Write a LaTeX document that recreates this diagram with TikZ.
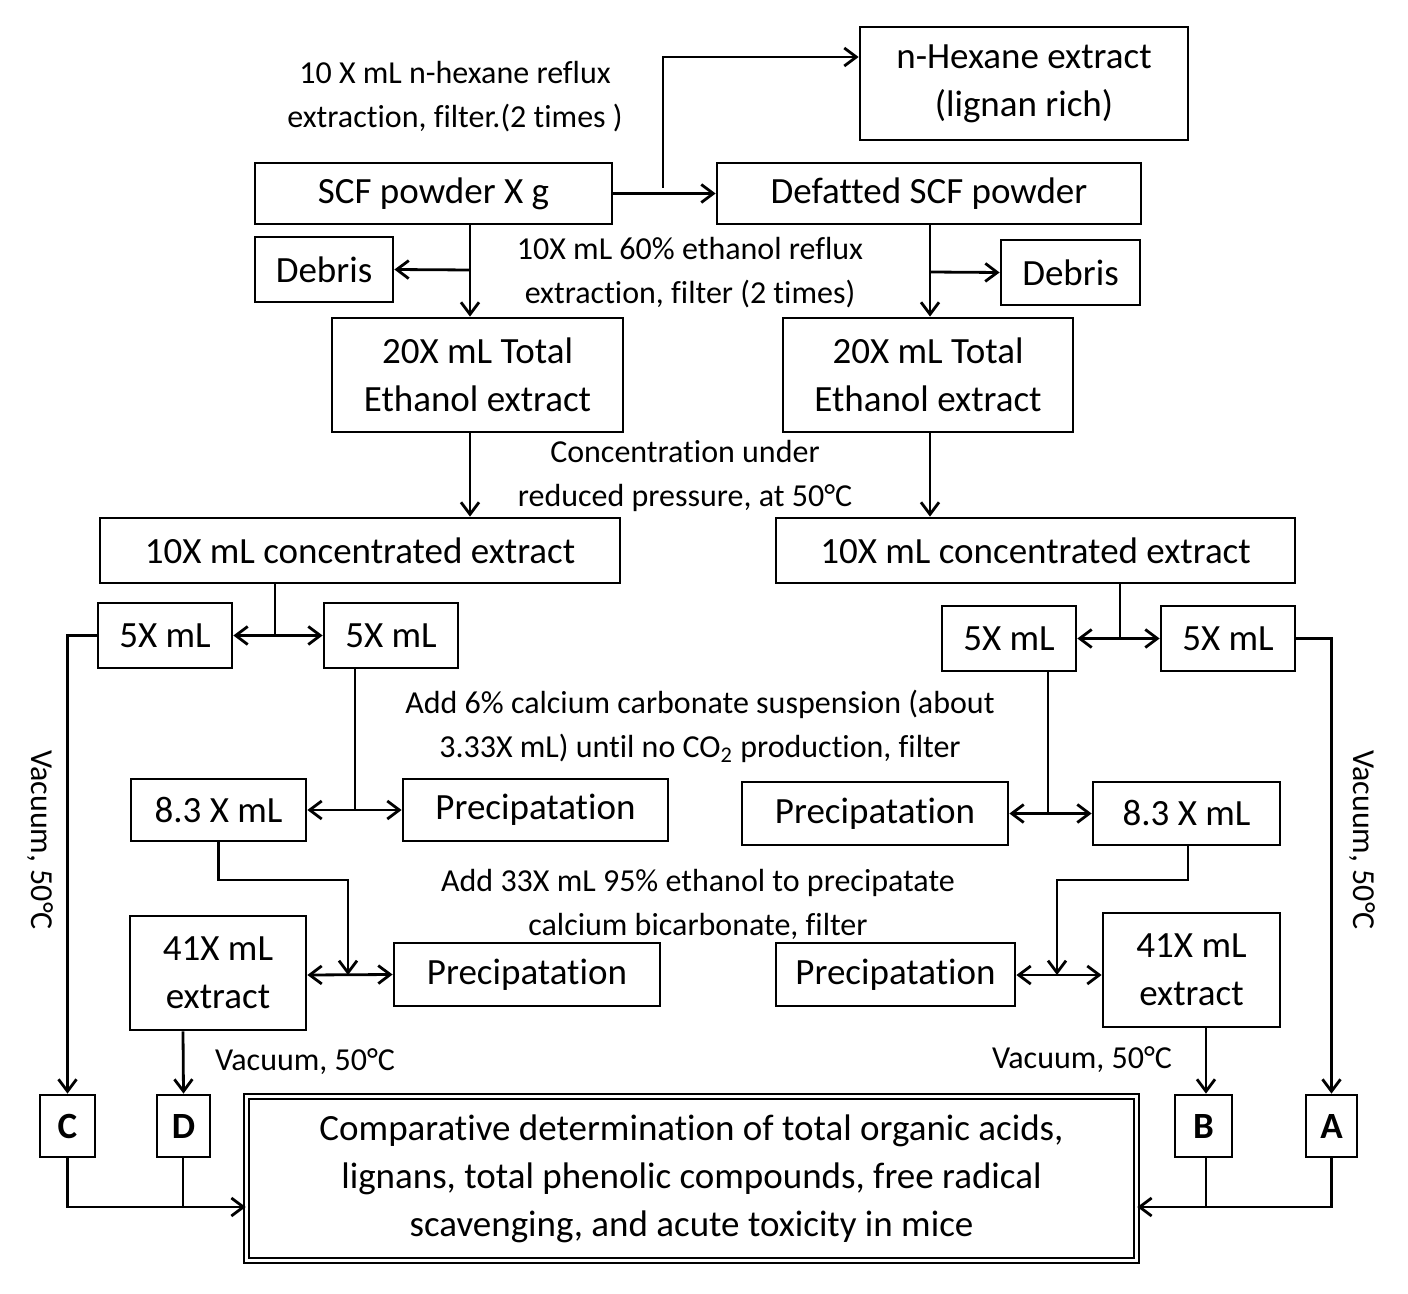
\documentclass[tikz,border=0pt]{standalone}
\usepackage{fontspec}
\usetikzlibrary{arrows.meta}
\setmainfont[Ligatures={NoCommon}]{Carlito}
\begin{document}
\begin{tikzpicture}[x=0.5pt,y=-0.5pt,line width=1.4pt,
 bx/.style={draw,align=center,inner sep=0pt,font=\fontsize{18.5}{24}\selectfont},
 ann/.style={align=center,inner sep=0pt,font=\fontsize{16}{22}\selectfont},
 ar/.style={-{Straight Barb[length=6pt,width=9pt]}},
 dar/.style={{Straight Barb[length=6pt,width=9pt]}-{Straight Barb[length=6pt,width=9pt]}}]
\useasboundingbox (0,0) rectangle (1408,1294);
\newcommand\bxx[6]{\node[bx,minimum width=#4*0.5pt-#2*0.5pt,minimum height=#5*0.5pt-#3*0.5pt] (#1) at ({(#2+#4)/2},{(#3+#5)/2}) {#6};}
\bxx{nhex}{860}{27}{1188}{140}{n-Hexane extract\\(lignan rich)}
\bxx{scf}{255}{163}{612}{224}{SCF powder X g}
\bxx{def}{717}{163}{1141}{224}{Defatted SCF powder}
\bxx{debL}{255}{237}{393}{302}{Debris}
\bxx{debR}{1001}{240}{1140}{305}{Debris}
\bxx{totL}{332}{318}{623}{432}{20X mL Total\\Ethanol extract}
\bxx{totR}{783}{318}{1073}{432}{20X mL Total\\Ethanol extract}
\bxx{conL}{100}{518}{620}{583}{10X mL concentrated extract}
\bxx{conR}{776}{518}{1295}{583}{10X mL concentrated extract}
\bxx{fL1}{98}{603}{232}{668}{5X mL}
\bxx{fL2}{324}{603}{458}{668}{5X mL}
\bxx{fR1}{942}{606}{1076}{671}{5X mL}
\bxx{fR2}{1161}{606}{1295}{671}{5X mL}
\bxx{eL}{131}{779}{306}{841}{8.3 X mL}
\bxx{pL1}{403}{779}{668}{841}{Precipatation}
\bxx{pR1}{742}{782}{1008}{845}{Precipatation}
\bxx{eR}{1093}{782}{1280}{845}{8.3 X mL}
\bxx{xL}{130}{916}{306}{1030}{41X mL\\extract}
\bxx{pL2}{394}{943}{660}{1006}{Precipatation}
\bxx{pR2}{776}{943}{1015}{1006}{Precipatation}
\bxx{xR}{1103}{913}{1280}{1027}{41X mL\\extract}
\bxx{C}{40}{1095}{95}{1157}{\textbf{C}}
\bxx{D}{157}{1095}{210}{1157}{\textbf{D}}
\bxx{B}{1175}{1095}{1232}{1157}{\textbf{B}}
\bxx{A}{1306}{1095}{1357}{1157}{\textbf{A}}
\node[bx,double,line width=0.8pt,double distance=1.5pt,minimum width=445pt,minimum height=82pt] (fin) at (691.5,1178.5) {Comparative determination of total organic acids,\\lignans, total phenolic compounds, free radical\\scavenging, and acute toxicity in mice};
% annotations
\node[ann] at (455,97) {10 X mL n-hexane reflux\\extraction, filter.(2 times )};
\node[ann] at (690,273) {10X mL 60\% ethanol reflux\\extraction, filter (2 times)};
\node[ann] at (685,476) {Concentration under\\reduced pressure, at 50°C};
\node[ann] at (700,726) {Add 6\% calcium carbonate suspension (about\\3.33X mL) until no CO\textsubscript{2} production, filter};
\node[ann] at (698,904) {Add 33X mL 95\% ethanol to precipatate\\calcium bicarbonate, filter};
\node[ann] at (305,1062) {Vacuum, 50°C};
\node[ann] at (1082,1060) {Vacuum, 50°C};
\node[ann,rotate=-90] at (40,840) {Vacuum, 50°C};
\node[ann,rotate=-90] at (1362,840) {Vacuum, 50°C};
% connectors
\draw[ar] (scf.east) -- (def.west);
\coordinate (j1) at (663,188);
\draw[ar] (j1) |- (nhex.west |- 0,57);
\draw[ar] (scf.south -| 470,0) -- (totL.north -| 470,0);
\draw[ar] (470,270) -- (debL.east);
\draw[ar] (def.south -| 930,0) -- (totR.north -| 930,0);
\draw[ar] (930,272) -- (debR.west);
\draw[ar] (totL.south -| 470,0) -- (conL.north -| 470,0);
\draw[ar] (totR.south -| 930,0) -- (conR.north -| 930,0);
\draw (conL.south -| 275,0) -- (275,637);
\draw[dar] (fL1.east) -- (fL2.west);
\draw[ar] (fL1.west) -| (C.north);
\draw (fL2.south -| 355,0) -- (355,810);
\draw[dar] (eL.east) -- (pL1.west);
\draw[ar] (eL.south) |- (348,880) -- (348,975);
\draw[dar] (xL.east |- 0,975) -- (pL2.west);
\draw[ar] (xL.south -| 183,0) -- (D.north);
\draw[ar] (C.south) |- (fin.west |- 0,1207);
\draw (D.south -| 183,0) -- (183,1207);
\draw (conR.south -| 1120,0) -- (1120,640);
\draw[dar] (fR1.east) -- (fR2.west);
\draw[ar] (fR2.east) -| (A.north);
\draw (fR1.south -| 1048,0) -- (1048,813);
\draw[dar] (pR1.east) -- (eR.west);
\draw[ar] (eR.south -| 1188,0) |- (1057,880) -- (1057,975);
\draw[dar] (pR2.east |- 0,975) -- (xR.west |- 0,975);
\draw[ar] (xR.south -| 1206,0) -- (B.north -| 1206,0);
\draw[ar] (A.south) |- (fin.east |- 0,1207);
\draw (B.south -| 1206,0) -- (1206,1207);
\end{tikzpicture}
\end{document}
